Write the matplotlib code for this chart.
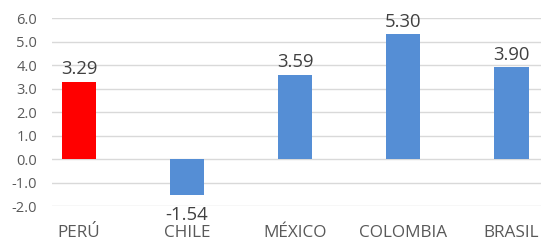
import matplotlib
matplotlib.use("Agg")
import matplotlib.pyplot as plt

categories = ["PERÚ", "CHILE", "MÉXICO", "COLOMBIA", "BRASIL"]
values = [3.29, -1.54, 3.59, 5.30, 3.90]
colors = ["#FF0000", "#558ED5", "#558ED5", "#558ED5", "#558ED5"]
yticks = [-2.0, -1.0, 0.0, 1.0, 2.0, 3.0, 4.0, 5.0, 6.0]

plt.rcParams['font.family'] = ['Open Sans', 'DejaVu Sans']

fig = plt.figure(figsize=(5.43, 2.41), dpi=100)
ax = fig.add_axes([0.0958, 0.1452, 0.9006, 0.7801])

x = list(range(len(categories)))
ax.bar(x, values, width=0.32, color=colors, zorder=3)

ax.set_ylim(-2, 6)
ax.set_xlim(-0.249, 4.276)
ax.set_yticks(yticks)
ax.set_yticklabels([f"{v:.1f}" for v in yticks])
ax.set_xticks(x)
ax.set_xticklabels(categories)

ax.grid(axis='y', color='#D9D9D9', linewidth=1.0, zorder=0)
for s in ax.spines.values():
    s.set_visible(False)
ax.tick_params(axis='y', length=0, pad=10.8, labelsize=10.5, labelcolor='#595959')
ax.tick_params(axis='x', length=0, pad=14, labelsize=12.3, labelcolor='#595959')

for xi, v in zip(x, values):
    if v >= 0:
        ax.annotate(f"{v:.2f}", (xi, v), xytext=(0, 2.5), textcoords='offset points',
                    ha='center', va='bottom', fontsize=13.3, color='#404040', clip_on=False)
    else:
        ax.annotate(f"{v:.2f}", (xi, v), xytext=(0, -7.5), textcoords='offset points',
                    ha='center', va='top', fontsize=13.3, color='#404040', clip_on=False)

fig.savefig("out.png", dpi=100)
